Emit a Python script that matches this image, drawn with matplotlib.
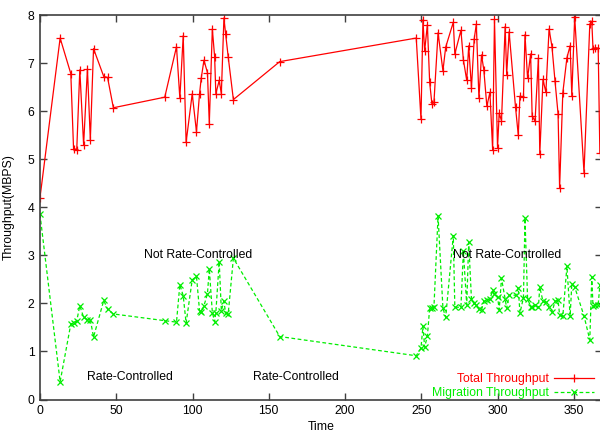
import matplotlib
matplotlib.use("Agg")
import matplotlib.pyplot as plt

# time stamps (shared by both series)
time = [0, 13.2, 20.2, 22.0, 24.1, 26.1, 28.6, 31.1, 33.0, 35.1,
        41.8, 44.3, 48.1, 81.8, 89.5, 91.7, 93.9, 95.8, 99.8, 102.6,
        104.6, 105.7, 107.5, 109.8, 111.0, 113.0, 114.5, 115.3, 117.5, 118.9,
        120.6, 121.7, 123.4, 126.8, 157.2,
        246.7, 249.8, 251.1, 252.2, 254.0, 255.5, 257.0, 258.3, 261.0, 264.2,
        266.0, 271.0, 272.0, 276.0, 277.6, 279.8, 281.1, 282.9, 284.7, 286.1,
        287.8, 289.5, 291.0, 293.0, 295.0, 296.8, 298.0, 300.0, 301.1, 302.6,
        305.0, 306.0, 307.6, 311.8, 313.6, 314.7, 317.0, 318.0, 319.7, 321.7,
        322.7, 324.6, 326.8, 327.7, 329.8, 331.7, 333.8, 335.7, 337.7, 339.7,
        340.7, 342.8, 345.5, 347.6, 348.7, 350.6, 356.7, 360.5, 361.8, 362.6,
        364.2, 366.0, 367.1, 369.5]

total = [4.2, 7.52, 6.78, 5.22, 5.2, 6.86, 5.3, 6.88, 5.4, 7.3,
         6.72, 6.7, 6.07, 6.29, 7.34, 6.27, 7.57, 5.35, 6.36, 5.57,
         6.36, 6.68, 7.06, 6.8, 5.74, 7.71, 7.13, 6.36, 6.64, 6.36,
         7.94, 7.61, 7.13, 6.24, 7.03,
         7.52, 5.83, 7.9, 7.25, 7.8, 6.6, 6.14, 6.18, 7.63, 6.84,
         7.33, 7.85, 7.19, 7.68, 7.07, 6.64, 7.36, 6.48, 7.5, 7.81,
         6.27, 7.17, 6.86, 6.1, 6.39, 5.19, 7.91, 5.24, 5.96, 5.8,
         7.76, 6.76, 7.65, 6.08, 5.5, 6.31, 6.3, 7.59, 6.68, 7.19,
         5.9, 5.79, 7.11, 5.1, 6.66, 6.39, 7.71, 7.34, 6.62, 5.94,
         4.4, 6.38, 7.11, 7.36, 6.32, 7.96, 4.72, 7.81, 7.87, 7.3,
         7.32, 7.31, 5.13, 6.3]

migration = [3.85, 0.37, 1.57, 1.6, 1.64, 1.95, 1.71, 1.66, 1.66, 1.3,
             2.06, 1.88, 1.78, 1.64, 1.61, 2.39, 2.16, 1.59, 2.49, 2.56,
             1.85, 1.83, 1.95, 2.2, 2.72, 1.81, 1.62, 1.81, 2.87, 1.85,
             2.04, 1.8, 1.78, 2.94, 1.31,
             0.91, 1.07, 1.52, 1.09, 1.32, 1.9, 1.9, 1.92, 3.82, 1.9,
             1.71, 3.41, 1.92, 1.92, 3.08, 1.97, 3.27, 2.09, 2.0, 1.97,
             1.88, 1.86, 2.05, 2.07, 2.09, 2.27, 2.2, 2.14, 1.87, 2.52,
             2.09, 1.9, 2.17, 2.17, 2.32, 1.8, 2.12, 3.77, 2.1, 1.93,
             1.93, 1.96, 1.92, 2.34, 2.04, 2.02, 1.92, 1.82, 2.04, 2.07,
             1.76, 1.73, 2.77, 1.73, 2.4, 2.34, 1.74, 1.24, 2.55, 1.94,
             1.97, 1.97, 2.38, 2.2]

annotations = [("Not Rate-Controlled", 104, 3.0),
               ("Not Rate-Controlled", 306, 3.0),
               ("Rate-Controlled", 59, 0.47),
               ("Rate-Controlled", 168, 0.47)]

plt.rcParams['font.family'] = ['Liberation Sans', 'DejaVu Sans']
plt.rcParams['font.size'] = 8.8

fig = plt.figure(figsize=(6, 4.33), dpi=100)
ax = fig.add_axes([40 / 600, 1 - 399.5 / 433, 562 / 600, (399.5 - 15) / 433])

red = '#ff0000'
green = '#00ee00'
ax.plot(time, total, color=red, lw=0.9, marker='+', ms=6, mew=0.9,
        label='Total Throughput')
ax.plot(time, migration, color=green, lw=0.9, ls=(0, (3, 2)), marker='x',
        ms=4.5, mew=0.9, label='Migration Throughput')

for txt, x, y in annotations:
    ax.text(x, y, txt, ha='center', va='center', color='black')

ax.set_xlim(0, 368.5)
ax.set_ylim(0, 8)
ax.set_xticks(range(0, 351, 50))
ax.set_yticks(range(0, 9))
ax.tick_params(direction='in', length=5, width=1, top=True, right=True,
               colors='#404040', labelcolor='black', pad=4)
for s in ax.spines.values():
    s.set_color('#404040')
    s.set_linewidth(1.2)
ax.spines['right'].set_visible(False)

ax.set_xlabel('Time', labelpad=3)
ax.set_ylabel('Throughput(MBPS)', labelpad=9)

leg = ax.legend(loc='lower right', frameon=False, markerfirst=False,
                handlelength=3.3, labelcolor='linecolor',
                borderaxespad=0.0, labelspacing=0.15, handletextpad=0.4,
                bbox_to_anchor=(0.995, -0.012))

fig.savefig('out.png', dpi=100)
